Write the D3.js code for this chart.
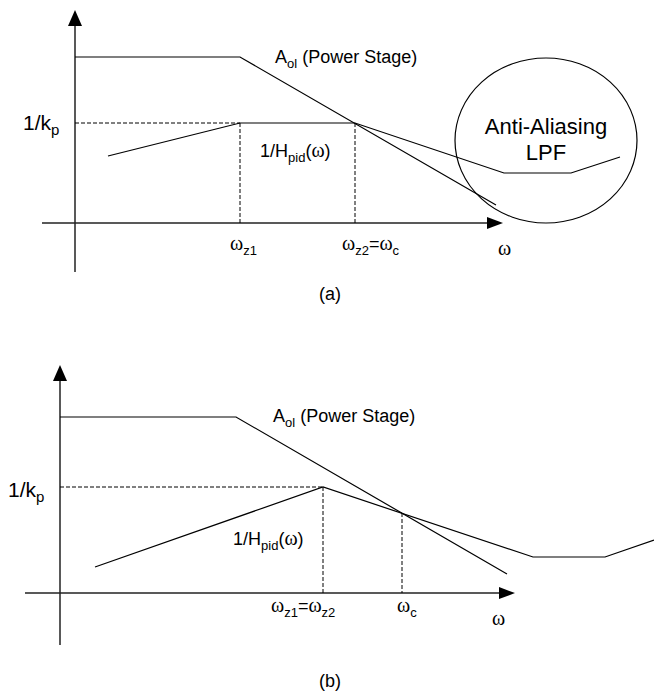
<!DOCTYPE html>
<html><head><meta charset="utf-8">
<script src="https://cdn.jsdelivr.net/npm/d3@7"></script>
<style>
body{margin:0;background:#fff;}
text{font-family:Arial,"Liberation Sans",sans-serif;fill:#000;}
.w{font-family:"Liberation Serif","Times New Roman",serif;}
</style></head>
<body>
<script>
// ---- data (abstract magnitude / log-frequency units, relative to each panel origin) ----
const panelNames = ["(a)", "(b)"];
const origins = [[75, 223], [60, 593]];
const xAxisExtent = [[-33, 428], [-35, 455]];
const yAxisExtent = [[-49, 213], [-52, 228]];
const aolA = [[0, 166], [165, 166], [421, 18]];
const hpidA = [[33, 67], [165, 100], [280, 100], [429, 50], [496, 50], [545, 66]];
const aolB = [[0, 176], [176, 176], [447, 19]];
const hpidB = [[35, 26], [263, 106], [473, 36], [545, 36], [594, 53]];
const kpLevel = [100, 106];
const crossLevel = [100, 80];
const zeroFreqA = [165, 280];
const zeroFreqB = [263, 342];
const lpfCircle = {cx: 471, cy: 82.5, rx: 91, ry: 82.5};
const lpfLabel = ["Anti-Aliasing", "LPF"];

const FS = 18, SUB = 13, OM = 20;

const svg = d3.select("body").append("svg").attr("width", 654).attr("height", 694);
svg.append("rect").attr("width", 654).attr("height", 694).attr("fill", "#fff");

function scales(i) {
  const [ox, oy] = origins[i];
  return {
    x: d3.scaleLinear().domain([0, 500]).range([ox, ox + 500]),
    y: d3.scaleLinear().domain([0, 250]).range([oy, oy - 250])
  };
}

function richText(g, x, y, segs, size, subSize) {
  const t = g.append("text").attr("x", x).attr("y", y).attr("font-size", size || FS);
  let sub = false;
  segs.forEach(s => {
    const sp = t.append("tspan").text(s.t);
    if (s.serif) sp.attr("class", "w").attr("font-size", OM);
    if (s.sub) {
      sp.attr("font-size", subSize || SUB);
      if (!sub) { sp.attr("dy", 5); sub = true; }
    } else if (sub) { sp.attr("dy", -5); sub = false; }
  });
  return t;
}

function drawAxes(g, i, sc) {
  const [x0, x1] = xAxisExtent[i], [y0, y1] = yAxisExtent[i];
  g.append("line").attr("x1", sc.x(x0)).attr("x2", sc.x(x1) - 12).attr("y1", sc.y(0)).attr("y2", sc.y(0))
    .attr("stroke", "#222").attr("stroke-width", 1.5);
  g.append("line").attr("x1", sc.x(0)).attr("x2", sc.x(0)).attr("y1", sc.y(y0)).attr("y2", sc.y(y1) + 12)
    .attr("stroke", "#222").attr("stroke-width", 1.5);
  const tx = sc.x(x1), ty = sc.y(0);
  g.append("path").attr("d", `M${tx},${ty} L${tx - 16},${ty - 6} L${tx - 16},${ty + 6} Z`).attr("fill", "#000");
  const ax = sc.x(0), ay = sc.y(y1);
  g.append("path").attr("d", `M${ax},${ay} L${ax - 7},${ay + 16} L${ax + 7},${ay + 16} Z`).attr("fill", "#000");
}

const line = sc => d3.line().x(d => sc.x(d[0])).y(d => sc.y(d[1]));

function dashed(g, x1, y1, x2, y2) {
  g.append("line").attr("x1", x1).attr("y1", y1).attr("x2", x2).attr("y2", y2)
    .attr("stroke", "#000").attr("stroke-width", 1).attr("stroke-dasharray", "4,2");
}
function curve(g, sc, data) {
  g.append("path").attr("d", line(sc)(data)).attr("fill", "none").attr("stroke", "#000").attr("stroke-width", 1.2);
}

// ---------- Panel (a) ----------
{
  const sc = scales(0), g = svg.append("g");
  drawAxes(g, 0, sc);
  dashed(g, sc.x(0), sc.y(kpLevel[0]), sc.x(zeroFreqA[0]), sc.y(kpLevel[0]));
  dashed(g, sc.x(zeroFreqA[0]), sc.y(kpLevel[0]), sc.x(zeroFreqA[0]), sc.y(0));
  dashed(g, sc.x(zeroFreqA[1]), sc.y(crossLevel[0]), sc.x(zeroFreqA[1]), sc.y(0));
  curve(g, sc, aolA);
  curve(g, sc, hpidA);
  g.append("ellipse").attr("cx", sc.x(lpfCircle.cx)).attr("cy", sc.y(lpfCircle.cy))
    .attr("rx", lpfCircle.rx).attr("ry", lpfCircle.ry).attr("fill", "none").attr("stroke", "#000").attr("stroke-width", 1.2);
  g.append("text").attr("x", sc.x(lpfCircle.cx)).attr("y", sc.y(lpfCircle.cy) - 7).attr("text-anchor", "middle")
    .attr("font-size", 22).text(lpfLabel[0]);
  g.append("text").attr("x", sc.x(lpfCircle.cx)).attr("y", sc.y(lpfCircle.cy) + 19).attr("text-anchor", "middle")
    .attr("font-size", 22).text(lpfLabel[1]);
  richText(g, sc.x(200), sc.y(160), [{t: "A"}, {t: "ol", sub: true}, {t: " (Power Stage)"}]);
  richText(g, 23, sc.y(kpLevel[0]) + 7, [{t: "1/k"}, {t: "p", sub: true}], 21, 15);
  richText(g, sc.x(185), sc.y(66), [{t: "1/H"}, {t: "pid", sub: true}, {t: "("}, {t: "ω", serif: true}, {t: ")"}]);
  richText(g, sc.x(zeroFreqA[0]) - 10, sc.y(0) + 27, [{t: "ω", serif: true}, {t: "z1", sub: true}]);
  richText(g, sc.x(zeroFreqA[1]) - 13, sc.y(0) + 27, [{t: "ω", serif: true}, {t: "z2", sub: true}, {t: "="}, {t: "ω", serif: true}, {t: "c", sub: true}]);
  richText(g, sc.x(423), sc.y(0) + 32, [{t: "ω", serif: true}]);
  g.append("text").attr("x", 330).attr("y", 300).attr("text-anchor", "middle").attr("font-size", FS).text(panelNames[0]);
}

// ---------- Panel (b) ----------
{
  const sc = scales(1), g = svg.append("g");
  drawAxes(g, 1, sc);
  dashed(g, sc.x(0), sc.y(kpLevel[1]), sc.x(zeroFreqB[0]), sc.y(kpLevel[1]));
  dashed(g, sc.x(zeroFreqB[0]), sc.y(kpLevel[1]), sc.x(zeroFreqB[0]), sc.y(0));
  dashed(g, sc.x(zeroFreqB[1]), sc.y(crossLevel[1]), sc.x(zeroFreqB[1]), sc.y(0));
  curve(g, sc, aolB);
  curve(g, sc, hpidB);
  richText(g, sc.x(213), sc.y(171), [{t: "A"}, {t: "ol", sub: true}, {t: " (Power Stage)"}]);
  richText(g, 8, sc.y(kpLevel[1]) + 10, [{t: "1/k"}, {t: "p", sub: true}], 21, 15);
  richText(g, sc.x(173), sc.y(48), [{t: "1/H"}, {t: "pid", sub: true}, {t: "("}, {t: "ω", serif: true}, {t: ")"}]);
  richText(g, sc.x(zeroFreqB[0]) - 52, sc.y(0) + 19, [{t: "ω", serif: true}, {t: "z1", sub: true}, {t: "="}, {t: "ω", serif: true}, {t: "z2", sub: true}]);
  richText(g, sc.x(zeroFreqB[1]) - 5, sc.y(0) + 19, [{t: "ω", serif: true}, {t: "c", sub: true}]);
  richText(g, sc.x(432), sc.y(0) + 32, [{t: "ω", serif: true}]);
  g.append("text").attr("x", 330).attr("y", 687).attr("text-anchor", "middle").attr("font-size", FS).text(panelNames[1]);
}
</script>
</body></html>
